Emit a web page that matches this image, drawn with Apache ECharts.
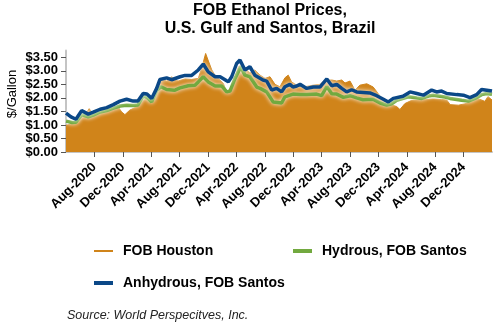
<!DOCTYPE html>
<html>
<head>
<meta charset="utf-8">
<script src="https://cdn.jsdelivr.net/npm/echarts@6/dist/echarts.min.js"></script>
<style>
html,body{margin:0;padding:0;background:#fff;}
#chart{width:500px;height:330px;}
</style>
</head>
<body>
<div id="chart"></div>
<script>
// ---- Data ----
const titleLines = ['FOB Ethanol Prices,', 'U.S. Gulf and Santos, Brazil'];
const seriesNames = ['FOB Houston', 'Hydrous, FOB Santos', 'Anhydrous, FOB Santos'];
const yTickValues = [0, 0.5, 1, 1.5, 2, 2.5, 3, 3.5];
const xTickLabels = ['Aug-2020','Dec-2020','Apr-2021','Aug-2021','Dec-2021','Apr-2022','Aug-2022','Dec-2022','Apr-2023','Aug-2023','Dec-2023','Apr-2024','Aug-2024','Dec-2024'];

const houstonDates = ['2020-04-01','2020-05-02','2020-05-30','2020-06-28','2020-07-09','2020-07-26','2020-08-25','2020-09-23','2020-10-21','2020-11-12','2020-11-26','2020-12-10','2021-01-01','2021-01-30','2021-02-20','2021-03-05','2021-03-26','2021-04-17','2021-05-08','2021-05-22','2021-06-06','2021-06-27','2021-07-24','2021-08-24','2021-09-22','2021-10-20','2021-11-04','2021-11-21','2021-12-01','2021-12-17','2021-12-31','2022-01-15','2022-02-06','2022-02-20','2022-03-11','2022-03-25','2022-04-09','2022-04-20','2022-05-15','2022-05-28','2022-06-19','2022-07-11','2022-08-02','2022-08-23','2022-09-14','2022-10-05','2022-10-26','2022-11-10','2022-11-24','2022-12-16','2023-01-12','2023-02-26','2023-03-24','2023-04-15','2023-05-14','2023-06-05','2023-06-26','2023-07-10','2023-08-01','2023-08-22','2023-09-13','2023-10-12','2023-11-09','2023-11-30','2023-12-22','2024-01-20','2024-02-18','2024-03-02','2024-03-23','2024-04-22','2024-06-18','2024-07-23','2024-08-28','2024-09-20','2024-10-04','2024-11-09','2024-12-07','2025-01-05','2025-02-03','2025-03-01','2025-03-14','2025-04-01'];
const houstonValues = [0.99,1.04,1.24,1.46,1.60,1.38,1.48,1.51,1.60,1.66,1.48,1.38,1.55,1.67,1.85,1.98,1.85,2.22,2.59,2.72,2.62,2.78,2.62,2.70,2.68,2.72,3.09,3.64,3.40,3.03,2.84,2.72,2.53,2.22,2.41,2.78,3.15,3.21,3.03,2.92,3.03,2.84,2.72,2.78,2.50,2.41,2.74,2.84,2.59,2.47,2.40,2.47,2.50,2.66,2.66,2.62,2.66,2.55,2.62,2.29,2.47,2.52,2.40,2.16,1.90,1.76,1.68,1.57,1.79,1.91,1.94,1.96,1.94,1.92,1.75,1.73,1.78,1.88,1.97,1.87,2.05,1.92];

const hydrousDates = ['2020-04-01','2020-04-26','2020-05-13','2020-06-07','2020-07-05','2020-07-26','2020-08-25','2020-09-23','2020-10-21','2020-11-19','2020-12-17','2021-01-15','2021-02-05','2021-02-27','2021-03-13','2021-04-03','2021-04-24','2021-05-12','2021-06-06','2021-07-09','2021-08-03','2021-09-08','2021-10-06','2021-10-20','2021-11-11','2021-12-02','2021-12-31','2022-01-29','2022-02-20','2022-03-04','2022-03-25','2022-04-20','2022-05-07','2022-05-28','2022-06-27','2022-07-11','2022-08-09','2022-09-06','2022-10-12','2022-10-26','2022-11-30','2022-12-30','2023-01-28','2023-03-10','2023-04-01','2023-04-23','2023-05-14','2023-06-05','2023-07-03','2023-08-01','2023-08-29','2023-09-26','2023-11-08','2023-12-08','2024-01-06','2024-01-27','2024-02-18','2024-04-07','2024-05-13','2024-06-04','2024-07-09','2024-07-23','2024-08-21','2024-09-12','2024-10-04','2024-11-23','2024-12-21','2025-01-19','2025-02-17','2025-03-09','2025-04-01'];
const hydrousValues = [1.14,1.09,1.10,1.38,1.30,1.36,1.48,1.53,1.62,1.70,1.73,1.72,1.74,2.07,2.02,1.85,2.28,2.41,2.31,2.28,2.37,2.45,2.47,2.59,2.78,2.59,2.44,2.44,2.22,2.25,2.72,3.15,2.84,2.78,2.40,2.35,2.22,1.85,1.81,2.04,2.14,2.12,2.12,2.14,2.08,2.42,2.15,2.14,2.02,2.08,2.00,1.93,1.95,1.81,1.73,1.78,1.91,2.04,2.00,1.98,2.08,2.10,2.06,2.03,1.98,1.91,1.88,1.98,2.12,2.16,2.13];

const anhydrousDates = ['2020-04-01','2020-04-22','2020-05-13','2020-06-07','2020-07-05','2020-07-26','2020-08-25','2020-09-23','2020-10-21','2020-11-19','2020-12-17','2021-01-15','2021-02-05','2021-02-27','2021-03-13','2021-04-03','2021-04-24','2021-05-08','2021-06-06','2021-06-27','2021-08-03','2021-08-24','2021-09-22','2021-10-20','2021-11-11','2021-12-02','2021-12-31','2022-01-22','2022-02-13','2022-02-27','2022-03-11','2022-04-02','2022-04-16','2022-05-07','2022-05-28','2022-06-19','2022-07-23','2022-08-09','2022-08-30','2022-09-21','2022-10-12','2022-10-26','2022-11-17','2022-11-30','2022-12-16','2022-12-30','2023-01-28','2023-02-26','2023-03-24','2023-04-23','2023-05-14','2023-06-05','2023-06-26','2023-07-17','2023-08-08','2023-08-29','2023-09-27','2023-10-25','2023-11-24','2023-12-22','2024-01-13','2024-02-04','2024-03-15','2024-04-15','2024-05-13','2024-06-11','2024-07-16','2024-08-07','2024-08-28','2024-09-20','2024-11-02','2024-11-30','2024-12-28','2025-01-26','2025-02-17','2025-03-09','2025-04-01'];
const anhydrousValues = [1.44,1.30,1.21,1.53,1.40,1.47,1.58,1.64,1.75,1.88,1.95,1.88,1.88,2.16,2.14,1.98,2.35,2.68,2.74,2.67,2.78,2.83,2.83,3.03,3.25,2.96,2.78,2.78,2.67,2.59,2.78,3.27,3.40,3.03,3.15,2.84,2.66,2.62,2.29,2.35,2.22,2.41,2.50,2.40,2.44,2.50,2.35,2.40,2.40,2.70,2.45,2.50,2.35,2.22,2.30,2.22,2.20,2.18,2.08,1.95,1.85,1.98,2.06,2.22,2.16,2.10,2.29,2.22,2.25,2.16,2.12,2.10,2.01,2.12,2.31,2.28,2.25];

const colors = { houston: '#D0841A', hydrous: '#72A93F', anhydrous: '#0B4887' };
const MONTHS = ['Jan','Feb','Mar','Apr','May','Jun','Jul','Aug','Sep','Oct','Nov','Dec'];

// month index: 2020-04-01 -> 4, 2021-01-01 -> 13
function monthIndex(d) {
  const p = d.split('-').map(Number);
  return (p[0] - 2020) * 12 + p[1] + (p[2] - 1) / 30;
}
function pairs(dates, vals) { return dates.map((d, i) => [monthIndex(d), vals[i]]); }
function labelFor(idx) {
  const k = Math.round(idx);
  return MONTHS[(k - 1) % 12] + '-' + (2020 + Math.floor((k - 1) / 12));
}
const xLabelSet = new Set(xTickLabels);

const FONT = '"Liberation Sans", Arial, sans-serif';
const chart = echarts.init(document.getElementById('chart'), null, { renderer: 'canvas' });

const glow = { shadowColor: '#ffffff', shadowBlur: 4 };
const legendText = { fontFamily: FONT, fontSize: 14, fontWeight: 'bold', color: '#000', padding: [0, 0, 0, 5] };

chart.setOption({
  animation: false,
  backgroundColor: '#ffffff',
  title: {
    text: titleLines.join('\n'),
    left: 270, top: 2, padding: 0, textAlign: 'center',
    textStyle: { fontFamily: FONT, fontSize: 16, fontWeight: 'bold', color: '#000', lineHeight: 18 }
  },
  grid: { left: 66, right: 8, top: 50.5, bottom: 178, containLabel: false },
  legend: [
    { data: [{ name: seriesNames[0], icon: 'rect' }], left: 94, top: 244, itemWidth: 19, itemHeight: 2, padding: 0, textStyle: legendText },
    { data: [{ name: seriesNames[1], icon: 'rect' }], left: 293, top: 244, itemWidth: 19, itemHeight: 4, padding: 0, textStyle: legendText },
    { data: [{ name: seriesNames[2], icon: 'rect' }], left: 94, top: 276, itemWidth: 19, itemHeight: 4, padding: 0, textStyle: legendText }
  ],
  xAxis: {
    type: 'value', min: 4, max: 64, interval: 4,
    axisLine: { show: true, lineStyle: { color: '#c4c4c4', width: 2 } },
    axisTick: { show: true, length: 5, lineStyle: { color: '#555', width: 1 } },
    splitLine: { show: false },
    axisLabel: {
      rotate: 45, margin: 13, showMinLabel: false, showMaxLabel: false,
      fontFamily: FONT, fontSize: 13, fontWeight: 'bold', color: '#000',
      formatter: function (v) { const l = labelFor(v); return xLabelSet.has(l) ? l : ''; }
    }
  },
  yAxis: {
    type: 'value', min: 0, max: 3.75, interval: 0.5,
    axisLine: { show: true, lineStyle: { color: '#c4c4c4', width: 2 } },
    axisTick: { show: true, length: 5, lineStyle: { color: '#555', width: 1 } },
    splitLine: { show: false },
    axisLabel: {
      margin: 8, showMaxLabel: false,
      fontFamily: FONT, fontSize: 13, fontWeight: 'bold', color: '#000',
      formatter: function (v) { return yTickValues.indexOf(v) >= 0 ? '$' + v.toFixed(2) : ''; }
    }
  },
  graphic: [
    { type: 'text', x: 12, y: 94, rotation: Math.PI / 2,
      style: { text: '$/Gallon', fontFamily: FONT, fontSize: 13, fill: '#000', align: 'center', verticalAlign: 'middle' } },
    { type: 'text', x: 67, y: 316,
      style: { text: 'Source: World Perspecitves, Inc.', fontFamily: FONT, fontSize: 12.5, fontStyle: 'italic', fill: '#222', align: 'left', verticalAlign: 'middle' } }
  ],
  series: [
    { name: seriesNames[0], type: 'line', data: pairs(houstonDates, houstonValues), showSymbol: false, symbol: 'none',
      itemStyle: { color: colors.houston },
      lineStyle: { color: colors.houston, width: 1 },
      areaStyle: { color: colors.houston, opacity: 1 }, z: 1 },
    { name: seriesNames[1], type: 'line', data: pairs(hydrousDates, hydrousValues), showSymbol: false, symbol: 'none',
      itemStyle: { color: colors.hydrous },
      lineStyle: Object.assign({ color: colors.hydrous, width: 3.5 }, glow), z: 2 },
    { name: seriesNames[2], type: 'line', data: pairs(anhydrousDates, anhydrousValues), showSymbol: false, symbol: 'none',
      itemStyle: { color: colors.anhydrous },
      lineStyle: Object.assign({ color: colors.anhydrous, width: 3.5 }, glow), z: 3 }
  ]
});
</script>
</body>
</html>
